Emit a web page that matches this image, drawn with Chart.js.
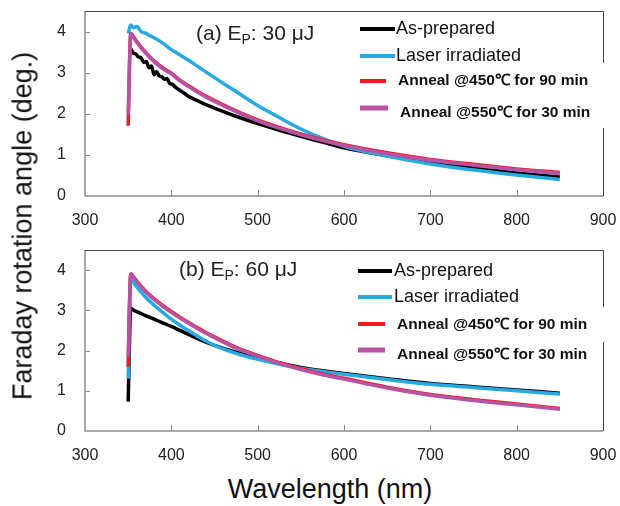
<!DOCTYPE html>
<html>
<head>
<meta charset="utf-8">
<script src="https://cdn.jsdelivr.net/npm/chart.js"></script>
<style>
    body { margin: 0; background: #fff; }
    #wrap { position: relative; width: 620px; height: 506px; overflow: hidden; font-family: "Liberation Sans", Arial, sans-serif; color: #111; }
    #wrap canvas { position: absolute; left: 0; }
    #chartA { top: 0; }
    #chartB { top: 230px; }
    .ytitle { position: absolute; left: 23px; top: 226px; transform: translate(-50%, -50%) rotate(-90deg); font-size: 27px; line-height: 27px; white-space: nowrap; }
    .xtitle { position: absolute; left: 330px; top: 476px; transform: translateX(-50%); font-size: 27px; line-height: 27px; white-space: nowrap; }
</style>
</head>
<body>
<div id="wrap">
    <canvas id="chartA" width="620" height="230"></canvas>
    <canvas id="chartB" width="620" height="240"></canvas>
    <div class="ytitle">Faraday rotation angle (deg.)</div>
    <div class="xtitle">Wavelength (nm)</div>
</div>

<script>
// series names
var seriesNames = ["As-prepared", "Laser irradiated", "Anneal @450\u2103 for 90 min", "Anneal @550\u2103 for 30 min"];
var seriesColors = ["#000000", "#27aae1", "#ed1c24", "#b653a3"];

// axis ticks
var xTicks = [300, 400, 500, 600, 700, 800, 900];
var yTicks = [0, 1, 2, 3, 4];

// (a) Ep: 30 uJ
var wlA = [350, 353, 356, 360, 365, 370, 375, 380, 390, 400, 410, 420, 430, 440, 450, 475, 500, 525, 550, 575, 600, 650, 700, 750, 800, 850];
var blueA = [3.95, 4.16, 4.10, 4.12, 4.00, 3.96, 3.90, 3.85, 3.72, 3.56, 3.43, 3.30, 3.16, 3.02, 2.88, 2.54, 2.20, 1.91, 1.63, 1.40, 1.21, 0.97, 0.78, 0.63, 0.51, 0.40];
var redA = [1.71, 3.96, 3.88, 3.76, 3.62, 3.50, 3.39, 3.29, 3.12, 2.99, 2.82, 2.68, 2.55, 2.43, 2.32, 2.07, 1.85, 1.67, 1.51, 1.37, 1.25, 1.05, 0.89, 0.77, 0.66, 0.57];
var purpleA = [1.98, 3.95, 3.86, 3.74, 3.60, 3.48, 3.37, 3.27, 3.10, 2.97, 2.80, 2.66, 2.53, 2.41, 2.30, 2.05, 1.83, 1.65, 1.49, 1.35, 1.23, 1.03, 0.87, 0.75, 0.64, 0.55];
// the as-prepared trace is noisy near the peak, so it has its own finer grid
var wlBlackA = [353, 356, 359, 362, 365, 368, 371, 374, 377, 380, 383, 386, 389, 392, 395, 398, 401, 405, 410, 415, 420, 425, 430, 440, 450, 475, 500, 525, 550, 575, 600, 650, 700, 750, 800, 850];
var blackA = [3.58, 3.48, 3.45, 3.38, 3.36, 3.25, 3.27, 3.12, 3.16, 2.95, 3.02, 2.92, 2.90, 2.84, 2.86, 2.74, 2.72, 2.64, 2.57, 2.50, 2.42, 2.37, 2.32, 2.22, 2.14, 1.94, 1.76, 1.60, 1.45, 1.31, 1.17, 0.98, 0.82, 0.68, 0.56, 0.46];

// (b) Ep: 60 uJ
var wlB = [350, 353, 356, 360, 365, 370, 380, 390, 400, 410, 420, 430, 440, 450, 475, 500, 525, 550, 575, 600, 650, 700, 750, 800, 850];
var blackB = [0.73, 3.05, 3.01, 2.97, 2.92, 2.87, 2.78, 2.69, 2.60, 2.50, 2.40, 2.30, 2.21, 2.13, 1.96, 1.81, 1.69, 1.58, 1.50, 1.43, 1.30, 1.18, 1.10, 1.02, 0.94];
var blueB = [1.30, 3.80, 3.70, 3.58, 3.45, 3.33, 3.13, 2.95, 2.78, 2.63, 2.49, 2.36, 2.24, 2.13, 1.93, 1.78, 1.66, 1.56, 1.48, 1.41, 1.28, 1.16, 1.08, 1.00, 0.92];
var redB = [1.60, 3.91, 3.84, 3.73, 3.60, 3.48, 3.29, 3.12, 2.97, 2.83, 2.70, 2.57, 2.45, 2.34, 2.08, 1.88, 1.70, 1.55, 1.42, 1.31, 1.09, 0.91, 0.78, 0.67, 0.56];
var purpleB = [1.85, 3.90, 3.82, 3.71, 3.58, 3.46, 3.27, 3.10, 2.95, 2.81, 2.68, 2.55, 2.43, 2.32, 2.06, 1.86, 1.68, 1.53, 1.40, 1.29, 1.07, 0.89, 0.76, 0.65, 0.54];

var tickFont = '16px "Liberation Sans", Arial, sans-serif';

function toPoints(xs, ys) {
    return xs.map(function (x, i) {
        return { x: x, y: ys[i] };
    });
}

function makeSets(list) {
    // list = [[xs, ys], ...] in legend order
    return list.map(function (item, i) {
        return {
            label: seriesNames[i],
            data: toPoints(item[0], item[1]),
            borderColor: seriesColors[i],
            backgroundColor: seriesColors[i],
            borderWidth: 3.5,
            pointRadius: 0,
            fill: false,
            cubicInterpolationMode: 'monotone',
            order: 4 - i
        };
    });
}

// frame, inward ticks, tick labels, legend and panel label
var panelDecor = {
    id: 'panelDecor',
    afterDraw: function (chart, args, opts) {
        var ctx = chart.ctx;
        var a = chart.chartArea;
        var xs = chart.scales.x;
        var ys = chart.scales.y;
        ctx.save();

        ctx.strokeStyle = '#8c8c8c';
        ctx.lineWidth = 1.5;
        ctx.beginPath();
        ctx.moveTo(a.left, a.top);
        ctx.lineTo(a.left, a.bottom);
        ctx.lineTo(a.right, a.bottom);
        ctx.stroke();

        ctx.strokeStyle = '#444';
        ctx.lineWidth = 1;
        ctx.beginPath();
        ctx.moveTo(a.left, a.top + 0.5);
        ctx.lineTo(a.right + 0.5, a.top + 0.5);
        ctx.lineTo(a.right + 0.5, a.bottom);
        ctx.stroke();

        ctx.strokeStyle = '#8c8c8c';
        ctx.beginPath();
        xTicks.forEach(function (v) {
            if (v === xTicks[0] || v === xTicks[xTicks.length - 1]) return;
            var px = Math.round(xs.getPixelForValue(v)) + 0.5;
            ctx.moveTo(px, a.bottom);
            ctx.lineTo(px, a.bottom - 6);
        });
        yTicks.forEach(function (v) {
            if (v === 0) return;
            var py = Math.round(ys.getPixelForValue(v)) + 0.5;
            ctx.moveTo(a.left, py);
            ctx.lineTo(a.left + 5, py);
        });
        ctx.stroke();

        // tick labels
        ctx.fillStyle = '#222';
        ctx.font = tickFont;
        ctx.textBaseline = 'middle';
        ctx.textAlign = 'center';
        xTicks.forEach(function (v) {
            ctx.fillText(String(v), xs.getPixelForValue(v), a.bottom + opts.xLabelGap);
        });
        ctx.textAlign = 'right';
        yTicks.forEach(function (v) {
            ctx.fillText(String(v), a.left - 19, ys.getPixelForValue(v));
        });

        // white box behind the anneal entries cuts the right border
        var b = opts.box;
        ctx.fillStyle = '#fff';
        ctx.fillRect(b[0], b[1], b[2], b[3]);

        ctx.textAlign = 'left';
        chart.data.datasets.forEach(function (ds, i) {
            var r = opts.rows[i];
            ctx.strokeStyle = ds.borderColor;
            ctx.lineWidth = r.w;
            ctx.beginPath();
            ctx.moveTo(r.x0, r.y);
            ctx.lineTo(r.x1, r.y);
            ctx.stroke();
            ctx.fillStyle = '#111';
            ctx.font = r.font;
            ctx.textBaseline = 'middle';
            ctx.fillText(ds.label, r.tx, r.ty);
        });

        // panel label with subscript
        var t = opts.title;
        ctx.fillStyle = '#222';
        ctx.textBaseline = 'alphabetic';
        ctx.font = '21px "Liberation Sans", Arial, sans-serif';
        var x = t.x;
        ctx.fillText(t.pre, x, t.y);
        x += ctx.measureText(t.pre).width;
        ctx.font = '14px "Liberation Sans", Arial, sans-serif';
        ctx.fillText('P', x, t.y + 4);
        x += ctx.measureText('P').width;
        ctx.font = '21px "Liberation Sans", Arial, sans-serif';
        ctx.fillText(t.post, x, t.y);

        ctx.restore();
    }
};

function panel(id, sets, frame, decor) {
    var ctx = document.getElementById(id).getContext('2d');
    return new Chart(ctx, {
        type: 'line',
        data: { datasets: sets },
        plugins: [panelDecor],
        options: {
            responsive: false,
            animation: false,
            devicePixelRatio: 1,
            layout: {
                autoPadding: false,
                padding: { left: 0, right: frame.right, top: frame.top, bottom: 0 }
            },
            plugins: {
                legend: { display: false },
                tooltip: { enabled: false },
                panelDecor: decor
            },
            scales: {
                x: {
                    type: 'linear',
                    min: 300,
                    max: 900,
                    afterFit: function (s) { s.height = frame.xh; },
                    grid: { display: false, drawTicks: false },
                    border: { display: false },
                    ticks: { display: false, stepSize: 100 }
                },
                y: {
                    min: 0,
                    max: 4.5,
                    afterFit: function (s) { s.width = 85; },
                    grid: { display: false, drawTicks: false },
                    border: { display: false },
                    ticks: { display: false, stepSize: 1 }
                }
            }
        }
    });
}

var boldFont = 'bold 15.5px "Liberation Sans", Arial, sans-serif';
var plainFont = '18px "Liberation Sans", Arial, sans-serif';

panel('chartA',
    makeSets([[wlBlackA, blackA], [wlA, blueA], [wlA, redA], [wlA, purpleA]]),
    { top: 11, right: 17, xh: 34 },
    {
        xLabelGap: 25,
        box: [392, 63, 215, 65],
        rows: [
            { x0: 360, x1: 395, y: 29, w: 4, tx: 396, ty: 29, font: plainFont },
            { x0: 360, x1: 395, y: 56, w: 4, tx: 396, ty: 56, font: plainFont },
            { x0: 360, x1: 386, y: 81, w: 4, tx: 398, ty: 81, font: boldFont },
            { x0: 360, x1: 388, y: 108, w: 5, tx: 400, ty: 113, font: boldFont }
        ],
        title: { x: 196, y: 40, pre: '(a) E', post: ': 30 \u03bcJ' }
    });

panel('chartB',
    makeSets([[wlB, blackB], [wlB, blueB], [wlB, redB], [wlB, purpleB]]),
    { top: 20, right: 17, xh: 39 },
    {
        xLabelGap: 25,
        box: [392, 77, 215, 35],
        rows: [
            { x0: 358, x1: 392, y: 41, w: 4, tx: 394, ty: 41, font: plainFont },
            { x0: 358, x1: 392, y: 67, w: 4, tx: 394, ty: 67, font: plainFont },
            { x0: 358, x1: 385, y: 94, w: 4, tx: 397, ty: 95, font: boldFont },
            { x0: 358, x1: 385, y: 120, w: 5, tx: 397, ty: 125, font: boldFont }
        ],
        title: { x: 179, y: 46, pre: '(b) E', post: ': 60 \u03bcJ' }
    });
</script>
</body>
</html>
